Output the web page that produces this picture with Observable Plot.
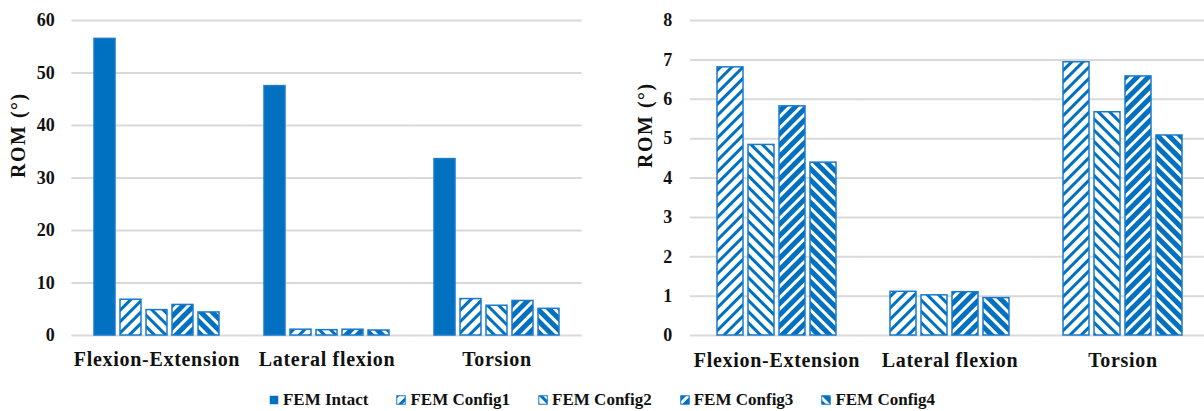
<!DOCTYPE html>
<html><head><meta charset="utf-8">
<script src="https://cdn.jsdelivr.net/npm/d3@7"></script>
<script src="https://cdn.jsdelivr.net/npm/@observablehq/plot@0.6"></script>
<style>
html,body{margin:0;padding:0;background:#fff;overflow:hidden;width:1204px;height:411px}
#row{display:flex;width:1204px;height:375px;overflow:hidden}
#left{flex:none;width:602px}
#right{flex:none;width:610px}
#legend{display:flex;justify-content:center;align-items:center;gap:28px;height:22px;margin-top:14px;font-family:"Liberation Serif","Times New Roman","DejaVu Serif",serif;font-weight:bold;font-size:17px;color:#111}
.item{display:flex;align-items:center;gap:4px}
svg text{font-family:"Liberation Serif","Times New Roman","DejaVu Serif",serif}
g[aria-label="fx-axis tick label"] text{letter-spacing:0.7px}
.romlab text{letter-spacing:1.5px}
</style></head><body>
<svg width="0" height="0" style="position:absolute"><defs>
<pattern id="p1" width="8" height="8" patternUnits="userSpaceOnUse" patternTransform="rotate(45)"><rect width="8" height="8" fill="#fff"/><rect width="3" height="8" fill="#0070C0"/></pattern>
<pattern id="p2" width="8" height="8" patternUnits="userSpaceOnUse" patternTransform="rotate(-45)"><rect width="8" height="8" fill="#fff"/><rect width="3" height="8" fill="#0070C0"/></pattern>
<pattern id="p3" width="8" height="8" patternUnits="userSpaceOnUse" patternTransform="rotate(45)"><rect width="8" height="8" fill="#fff"/><rect width="5" height="8" fill="#0070C0"/></pattern>
<pattern id="p4" width="8" height="8" patternUnits="userSpaceOnUse" patternTransform="rotate(-45)"><rect width="8" height="8" fill="#fff"/><rect width="5" height="8" fill="#0070C0"/></pattern>
</defs></svg>
<div id="row"><div id="left"></div><div id="right"></div></div>
<div id="legend"></div>
<script>
const categories = ["Flexion-Extension", "Lateral flexion", "Torsion"];
const seriesNames = ["FEM Intact", "FEM Config1", "FEM Config2", "FEM Config3", "FEM Config4"];
const intact  = [56.5, 47.5, 33.6];
const config1 = [6.81, 1.11, 6.94];
const config2 = [4.84, 1.02, 5.67];
const config3 = [5.82, 1.10, 6.58];
const config4 = [4.39, 0.95, 5.08];
const yTicksLeft = [0, 10, 20, 30, 40, 50, 60];
const yTicksRight = [0, 1, 2, 3, 4, 5, 6, 7, 8];
const yLabel = "ROM (°)";
const fills = ["#0070C0", "url(#p1)", "url(#p2)", "url(#p3)", "url(#p4)"];
const serif = '"Liberation Serif", "Times New Roman", "DejaVu Serif", serif';

const valuesBySeries = {
  "FEM Intact": intact, "FEM Config1": config1, "FEM Config2": config2,
  "FEM Config3": config3, "FEM Config4": config4
};

function chart({width, marginLeft, marginRight, series, yTicks, fxPad, xPad, tickPad, fxPadText, labelX, labelDy}) {
  const rows = [];
  for (const s of series) categories.forEach((c, i) => rows.push({category: c, series: s, value: valuesBySeries[s][i]}));
  // half of the gap between facet bands (= outer padding), so grid lines join across facets
  const outer = (fxPad / 2) * (width - marginLeft - marginRight) / categories.length;
  return Plot.plot({
    width, height: 375, marginTop: 20, marginBottom: 40, marginLeft, marginRight,
    style: {fontFamily: serif, fontWeight: "bold", fontSize: "18px", color: "#111", background: "transparent", overflow: "visible"},
    fx: {domain: categories, paddingInner: fxPad, paddingOuter: fxPad / 2, label: null},
    x: {domain: series, paddingInner: xPad, paddingOuter: xPad / 2, axis: null},
    y: {domain: [yTicks[0], yTicks[yTicks.length - 1]]},
    color: {domain: seriesNames, range: fills},
    marks: [
      Plot.ruleY(yTicks, {y: d => d, stroke: "#d9d9d9", strokeWidth: 2, insetLeft: -outer, insetRight: -outer}),
      Plot.axisY(yTicks, {tickSize: 0, tickPadding: tickPad + outer, fontSize: 18, label: null}),
      Plot.text([yLabel], {text: d => d, frameAnchor: "left", facetAnchor: "left", rotate: -90, dx: labelX - marginLeft - outer, dy: labelDy, fontSize: 20, className: "romlab"}),
      Plot.axisFx({anchor: "bottom", tickSize: 0, tickPadding: fxPadText, fontSize: 20, label: null}),
      Plot.barY(rows, {fx: "category", x: "series", y: "value", fill: "series", stroke: "#1a7acb", strokeWidth: 1.5})
    ]
  });
}

document.getElementById("left").append(chart({
  width: 602, marginLeft: 70, marginRight: 20, series: seriesNames, yTicks: yTicksLeft,
  fxPad: 0.23, xPad: 0.18, tickPad: 17, fxPadText: 16, labelX: 16.5, labelDy: 0
}));
document.getElementById("right").append(chart({
  width: 610, marginLeft: 87, marginRight: 2, series: seriesNames.slice(1), yTicks: yTicksRight,
  fxPad: 0.278, xPad: 0.17, tickPad: 18, fxPadText: 17.5, labelX: 42.7, labelDy: -10
}));

const legend = document.getElementById("legend");
seriesNames.forEach((s, i) => {
  const item = document.createElement("div");
  item.className = "item";
  const stroke = i === 0 ? "none" : "#1a7acb";
  item.innerHTML = `<svg width="10" height="10"><rect x="0.75" y="0.75" width="8.5" height="8.5" fill="${fills[i]}" stroke="${stroke}" stroke-width="1"/></svg><span></span>`;
  item.querySelector("span").textContent = s;
  legend.append(item);
});
</script>
</body></html>
